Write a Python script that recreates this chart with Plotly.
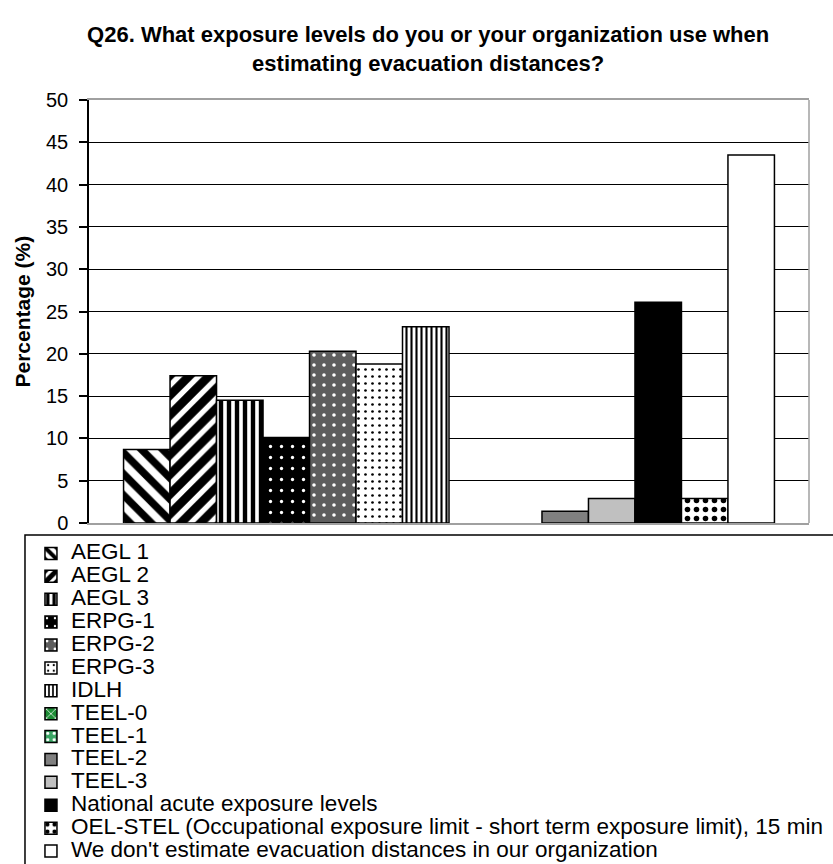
import plotly.graph_objects as go

category = ["Q26"]
series_names = [
    "AEGL 1", "AEGL 2", "AEGL 3", "ERPG-1", "ERPG-2", "ERPG-3", "IDLH",
    "TEEL-0", "TEEL-1", "TEEL-2", "TEEL-3", "National acute exposure levels",
    "OEL-STEL (Occupational exposure limit - short term exposure limit), 15 min",
    "We don't estimate evacuation distances in our organization",
]
percentages = [8.7, 17.4, 14.5, 10.1, 20.3, 18.8, 23.2, None, None, 1.4, 2.9, 26.1, 2.9, 43.5]
y_ticks = [0, 5, 10, 15, 20, 25, 30, 35, 40, 45, 50]

# fill styles: (base colour, pattern shape, pattern fg, pattern size, solidity)
styles = [
    ("white", "\\", "black", 15, 0.5),
    ("white", "/", "black", 14, 0.62),
    ("white", "|", "black", 8, 0.55),
    ("black", ".", "white", 11, 0.07),
    ("#5e5e5e", ".", "white", 10, 0.1),
    ("white", ".", "black", 7, 0.12),
    ("white", "|", "black", 5, 0.42),
    ("#1d8c35", "x", "white", 8, 0.2),
    ("#3aa564", ".", "white", 8, 0.2),
    ("#808080", "", "black", 8, 0.3),
    ("#c0c0c0", "", "black", 8, 0.3),
    ("black", "", "black", 8, 0.3),
    ("white", ".", "black", 9, 0.3),
    ("white", "", "black", 8, 0.3),
]

FONT = "Liberation Sans, Arial, sans-serif"

fig = go.Figure()
for name, val, st in zip(series_names, percentages, styles):
    base, shape, fg, size, sol = st
    marker = dict(color=base, line=dict(color="black", width=1.5))
    if shape:
        marker["pattern"] = dict(shape=shape, fgcolor=fg, bgcolor=base,
                                 size=size, solidity=sol, fillmode="replace")
    fig.add_trace(go.Bar(
        x=category, y=[val],
        name='<span style="font-size:22.5px">' + name + "</span>",
        marker=marker,
    ))

fig.update_layout(
    width=833, height=864,
    paper_bgcolor="white", plot_bgcolor="white",
    margin=dict(l=89, r=24, t=100, b=341, autoexpand=False),
    barmode="group", bargap=0.096, bargroupgap=0,
    font=dict(family=FONT, color="black"),
    title=dict(
        text="Q26. What exposure levels do you or your organization use when<br>estimating evacuation distances?",
        font=dict(family=FONT, size=22, weight=700, color="black"),
        xref="container", x=0.514, xanchor="center",
        yref="container", y=0.951, yanchor="top",
    ),
    xaxis=dict(showticklabels=False, ticks="", showgrid=False,
               showline=True, linecolor="#a0a0a0", linewidth=1.5, mirror=True,
               zeroline=False),
    yaxis=dict(range=[0, 50], tickvals=y_ticks, ticks="outside", ticklen=8,
               tickwidth=1.5, tickcolor="black", showline=True, linecolor="black",
               linewidth=1.5, showgrid=True, gridcolor="black", gridwidth=1.3,
               zeroline=False, tickfont=dict(family=FONT, size=20, color="black"),
               ticklabelstandoff=7),
    legend=dict(
        x=-0.0806, xanchor="left", y=-0.0331, yanchor="top",
        bgcolor="rgba(0,0,0,0)", borderwidth=0,
        font=dict(family=FONT, size=15.3, color="black"),
        tracegroupgap=0, traceorder="normal",
    ),
    showlegend=True,
    shapes=[
        dict(type="line", xref="paper", yref="paper", x0=1, x1=1, y0=0, y1=1,
             line=dict(color="#a0a0a0", width=1.5)),
        # legend frame (runs past the right and bottom edges as in the reference)
        dict(type="rect", xref="paper", yref="paper", x0=-0.0889, x1=1.2,
             y0=-0.02837, y1=-1.0, line=dict(color="black", width=1.5),
             fillcolor="rgba(0,0,0,0)", layer="above"),
    ],
    annotations=[dict(text="Percentage (%)", textangle=-90, xref="paper", yref="paper",
                      x=-0.093, y=0.5, xanchor="center", yanchor="middle", showarrow=False,
                      font=dict(family=FONT, size=21, weight=700, color="black"))],
)

fig.write_html(
    "out.html",
    config={"displayModeBar": False},
    post_script="document.body.style.margin='0';document.body.style.overflow='hidden';",
)
